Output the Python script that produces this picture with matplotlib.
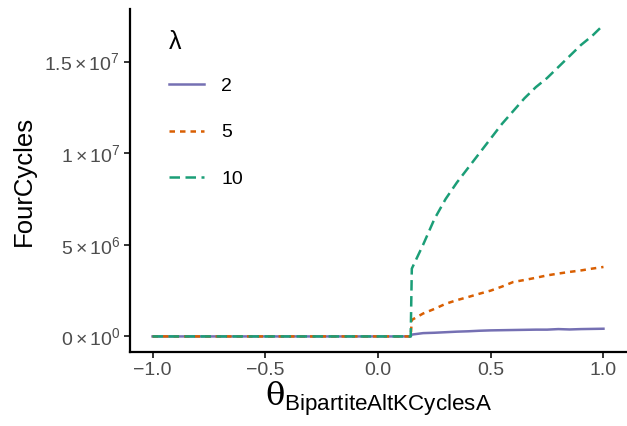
import matplotlib
matplotlib.use("Agg")
import matplotlib.pyplot as plt
from matplotlib.ticker import FixedLocator, FixedFormatter

plt.rcParams['font.family'] = ['Liberation Sans', 'DejaVu Sans']
plt.rcParams['mathtext.fontset'] = 'custom'
plt.rcParams['mathtext.rm'] = 'Liberation Sans'
plt.rcParams['mathtext.it'] = 'Liberation Sans:italic'
plt.rcParams['mathtext.bf'] = 'Liberation Sans:bold'
plt.rcParams['mathtext.sf'] = 'DejaVu Serif'

theta = [-1.0, 0.145, 0.15, 0.2, 0.25, 0.3, 0.35, 0.4, 0.45, 0.5, 0.55,
         0.6, 0.65, 0.7, 0.75, 0.8, 0.85, 0.9, 0.95, 1.0]
lam2 = [0, 0, 0.10e6, 0.18e6, 0.20e6, 0.23e6, 0.26e6, 0.28e6, 0.31e6, 0.33e6, 0.34e6,
        0.35e6, 0.36e6, 0.37e6, 0.37e6, 0.40e6, 0.38e6, 0.40e6, 0.41e6, 0.42e6]
lam5 = [0, 0, 0.90e6, 1.25e6, 1.50e6, 1.78e6, 1.98e6, 2.15e6, 2.33e6, 2.50e6, 2.72e6,
        2.97e6, 3.08e6, 3.20e6, 3.33e6, 3.43e6, 3.52e6, 3.60e6, 3.70e6, 3.79e6]
lam10 = [0, 0, 3.7e6, 5.0e6, 6.4e6, 7.5e6, 8.4e6, 9.2e6, 10.0e6, 10.8e6, 11.6e6,
         12.3e6, 13.0e6, 13.6e6, 14.1e6, 14.7e6, 15.3e6, 15.9e6, 16.4e6, 17.0e6]
labels = ['2', '5', '10']
xticks = [-1.0, -0.5, 0.0, 0.5, 1.0]
xticklabels = ['\u22121.0', '\u22120.5', '0.0', '0.5', '1.0']
yticks = [0, 5e6, 1e7, 1.5e7]
yticklabels = [r'$0\times10^{0}$', r'$5\times10^{6}$', r'$1\times10^{7}$', r'$1.5\times10^{7}$']

fig = plt.figure(figsize=(6.27, 4.26), dpi=100)
ax = fig.add_axes([130/627, 74/426, 496/627, 342.7/426])

lw = 1.8
ax.plot(theta, lam2, color='#7570B3', lw=lw, label=labels[0])
ax.plot(theta, lam5, color='#D95F02', lw=lw, linestyle=(0, (2.2, 2.0)), label=labels[1])
ax.plot(theta, lam10, color='#1B9E77', lw=lw, linestyle=(0, (4.2, 2.2)), label=labels[2])

ax.set_xlim(-1.1, 1.1)
ax.set_ylim(-0.85e6, 17.85e6)
ax.xaxis.set_major_locator(FixedLocator(xticks))
ax.xaxis.set_major_formatter(FixedFormatter(xticklabels))
ax.yaxis.set_major_locator(FixedLocator(yticks))
ax.yaxis.set_major_formatter(FixedFormatter(yticklabels))

for s in ['top', 'right']:
    ax.spines[s].set_visible(False)
for s in ['left', 'bottom']:
    ax.spines[s].set_linewidth(1.6)
    ax.spines[s].set_color('black')
ax.tick_params(axis='both', colors='#333333', labelcolor='#4D4D4D', labelsize=14,
               length=4, width=1.4, pad=3)

ax.set_ylabel('FourCycles', fontsize=18.5, labelpad=6)
ax.set_xlabel(r'$\mathsf{\theta}_{\mathrm{BipartiteAltKCyclesA}}$', fontsize=23, labelpad=1)

leg = ax.legend(title='\u03bb', loc='upper left', bbox_to_anchor=(0.043, 0.991),
                frameon=False, fontsize=14, title_fontsize=18,
                handlelength=1.8, handletextpad=0.9, labelspacing=1.5)
leg._legend_box.align = 'left'
leg._legend_box.sep = 16.7

fig.savefig('out.png', dpi=100)
